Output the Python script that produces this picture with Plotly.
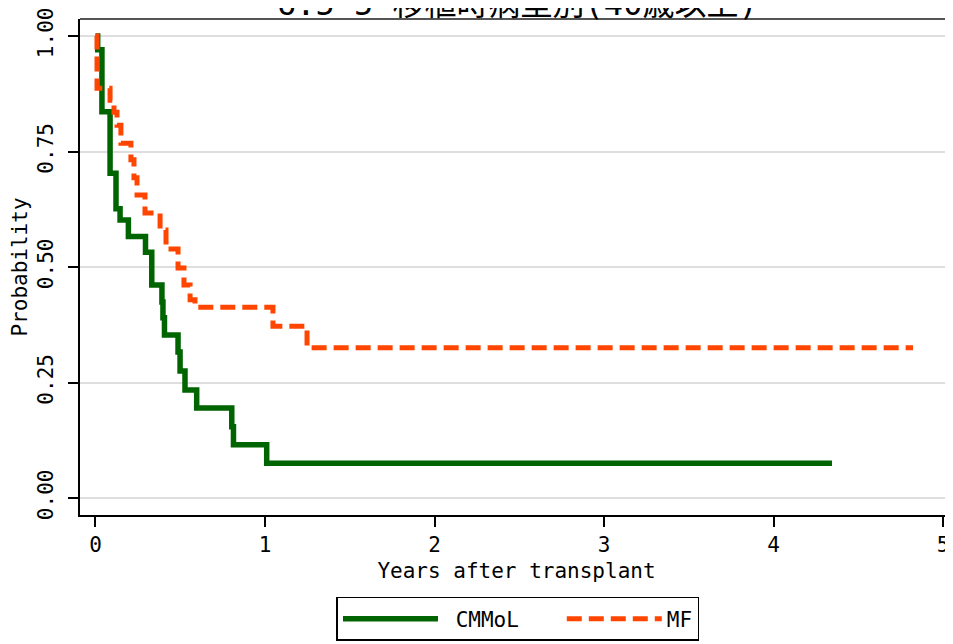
import plotly.graph_objects as go

# Kaplan-Meier step data
cmmol_t = [0, 0.013, 0.038, 0.086, 0.121, 0.145, 0.194, 0.295, 0.332, 0.392, 0.398,
           0.407, 0.487, 0.499, 0.528, 0.597, 0.804, 0.814, 1.010, 4.345]
cmmol_s = [1.0, 0.970, 0.836, 0.703, 0.626, 0.602, 0.566, 0.532, 0.461, 0.424, 0.39,
           0.353, 0.316, 0.275, 0.234, 0.195, 0.154, 0.115, 0.075, 0.075]

mf_t = [0, 0.009, 0.086, 0.109, 0.127, 0.150, 0.209, 0.227, 0.245, 0.292, 0.381,
        0.416, 0.487, 0.522, 0.558, 0.587, 1.047, 1.248, 4.823]
mf_s = [1.0, 0.887, 0.861, 0.835, 0.807, 0.768, 0.732, 0.693, 0.656, 0.617, 0.580,
        0.539, 0.498, 0.461, 0.429, 0.413, 0.372, 0.325, 0.325]

x_ticks = [0, 1, 2, 3, 4, 5]
y_ticks = [0, 0.25, 0.5, 0.75, 1.0]
y_ticktext = ["0.00", "0.25", "0.50", "0.75", "1.00"]

title_text = "6.5 5 移植時病型別(40歳以上)"
x_title = "Years after transplant"
y_title = "Probability"
series_names = ["\u00a0CMMoL\u00a0\u00a0\u00a0", "MF"]

FONT = "DejaVu Sans Mono, Noto Sans CJK JP, monospace"

fig = go.Figure()
fig.add_trace(go.Scatter(x=cmmol_t, y=cmmol_s, mode="lines", name=series_names[0],
                         line=dict(color="#006400", width=5.5, shape="hv")))
fig.add_trace(go.Scatter(x=mf_t, y=mf_s, mode="lines", name=series_names[1],
                         line=dict(color="#FF4500", width=5, shape="hv", dash="15px,7px")))

fig.update_layout(
    width=953, height=644,
    margin=dict(l=72, r=8, t=11, b=137, autoexpand=False),
    paper_bgcolor="white", plot_bgcolor="white",
    font=dict(family=FONT, size=21, color="black"),
    showlegend=True,
    legend=dict(orientation="h", x=0.5017, xanchor="center", y=-0.1653, yanchor="top",
                bordercolor="black", borderwidth=1.5, bgcolor="white",
                itemwidth=95, font=dict(size=21), tracegroupgap=0),
    xaxis=dict(range=[-0.0914, 5.059], tickvals=x_ticks, showgrid=False, zeroline=False,
               showline=True, linecolor="black", linewidth=2, automargin=False,
               ticks="outside", ticklen=10, tickwidth=1.5, tickcolor="black",
               ticklabeloverflow="allow",
               title=dict(text=x_title, standoff=7, font=dict(size=21)),
               tickfont=dict(size=21)),
    yaxis=dict(range=[-0.0368, 1.0368], tickvals=y_ticks, ticktext=y_ticktext,
               showgrid=True, gridcolor="#DEDEDE", gridwidth=2, zeroline=False,
               showline=True, linecolor="black", linewidth=2, automargin=False,
               ticks="outside", ticklen=10, tickwidth=1.5, tickcolor="black",
               ticklabelstandoff=7, ticklabeloverflow="allow",
               tickangle=-90, title=dict(text=y_title, standoff=0, font=dict(size=21)),
               tickfont=dict(size=21)),
    shapes=[dict(type="line", xref="paper", yref="paper", x0=0, x1=1, y0=1, y1=1,
                 line=dict(color="#555555", width=2))],
    annotations=[dict(text=title_text, xref="paper", yref="paper", x=0.5017, y=1,
                      xanchor="center", yanchor="middle", yshift=15, showarrow=False,
                      font=dict(size=32, family=FONT))],
)

fig.write_html("out.html")
